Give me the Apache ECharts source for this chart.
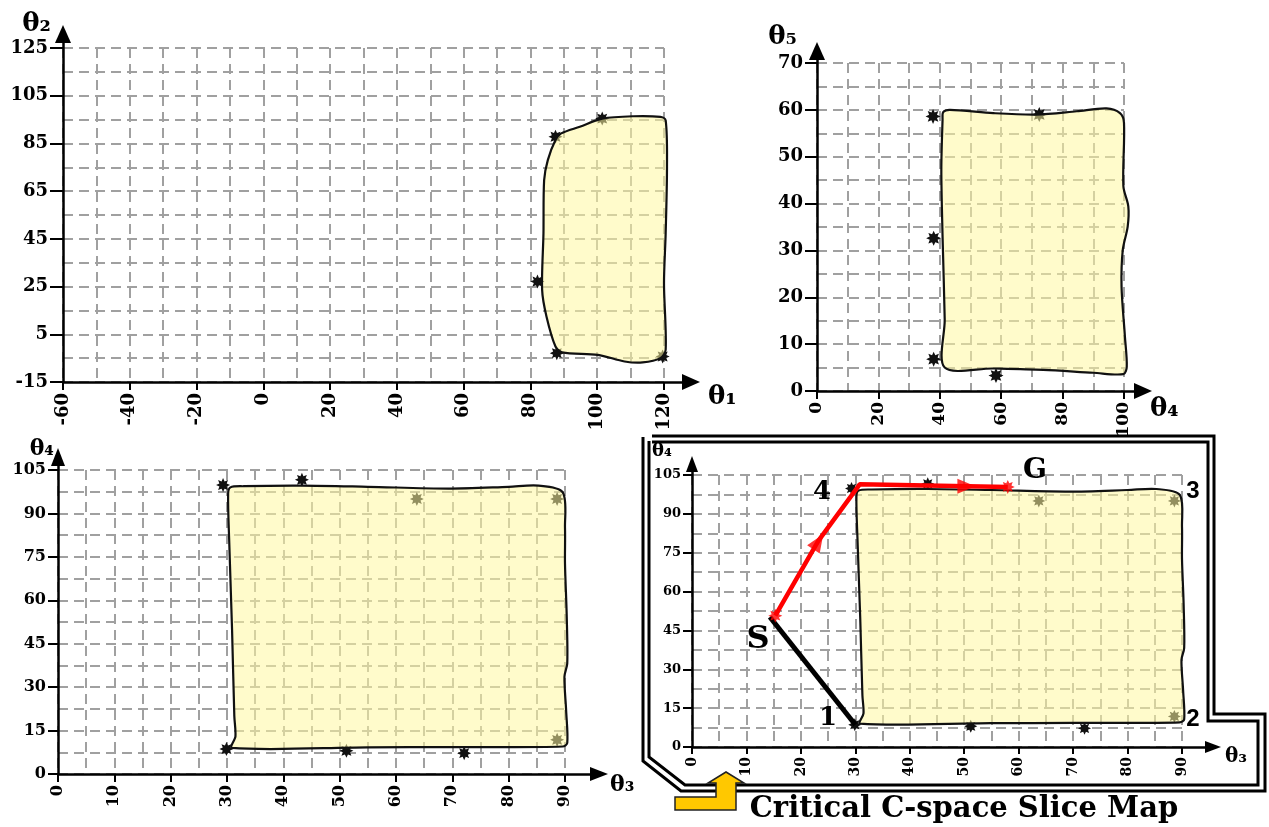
<!DOCTYPE html>
<html><head><meta charset="utf-8">
<script src="https://cdn.jsdelivr.net/npm/echarts@6/dist/echarts.min.js"></script>
<style>html,body{margin:0;padding:0;background:#fff}#c{width:1269px;height:827px}</style>
</head><body><div id="c"></div>
<script>
// ---------------- data ----------------
// panel 1 : theta1 (x) vs theta2 (y)
const p1XRange = [-60, 120];
const p1YRange = [-15, 125];
const p1Region = [[89.2,89.2],[94.8,92.0],[101.5,95.4],[110.9,96.4],[118.9,96.1],[120.5,94.7],[120.9,75.2],[120.5,47.3],[120.0,26.4],[120.5,-1.5],[118.9,-5.0],[113.6,-6.8],[108.2,-6.4],[100.2,-3.6],[89.5,-2.6],[87.5,-0.1],[84.8,12.5],[83.5,23.6],[83.9,47.3],[84.1,69.6],[85.2,78.0],[87.5,86.4]];
const p1Stars = [[87.5,87.8],[101.5,95.4],[120.3,96.4],[82.1,27.1],[87.9,-2.9],[119.6,-4.3]];
// panel 2 : theta4 (x) vs theta5 (y)
const p2XRange = [0, 100];
const p2YRange = [0, 70];
const p2Region = [[41.1,59.5],[43.3,60.0],[57.4,59.3],[71.5,59.0],[84.6,59.7],[94.3,60.3],[98.7,59.3],[100,57.2],[99.8,43.7],[101.4,39.4],[101.2,35.1],[99.6,30.1],[99.2,22.3],[100.3,11.6],[100.9,5.2],[99.8,3.6],[90,3.9],[73.7,4.5],[57.4,4.8],[41.6,5.0],[41.6,15.2],[40.9,33],[40.5,47.2],[40.9,57.9]];
const p2Stars = [[37.8,58.6],[72.4,59],[100.9,34.8],[38,32.6],[38,6.8],[58.3,3.3]];
// panels 3 & 4 : theta3 (x) vs theta4 (y)
const p34XRange = [0, 90];
const p34YRange = [0, 105];
const p34Region = [[30.6,99],[33,99.4],[43.3,99.6],[55,99.2],[69.3,98.6],[80,99.2],[85.3,99.6],[89.6,97.3],[90,85],[90,72.6],[90.3,55],[90.4,38.2],[89.9,33.6],[90.2,22],[90.4,10.7],[89.6,9.5],[70,9.3],[54.9,9.2],[30.9,9],[31.5,13],[31.3,20],[30.9,49.7],[30.4,80],[30.2,96.7]];
const p34Stars = [[29.3,99.8],[43.3,101.6],[63.7,95],[88.6,95],[29.9,8.6],[51.2,8],[72.1,7.2],[88.6,11.8]];
// panel 4 path
const redPath = [[15.3,50.7],[23.2,79.6],[30.8,101.4],[58,100.4]];
const blackPath = [[14.3,50.2],[30,8.6]];
const redStars = [[15.3,50.7],[58,100.4]];
const pathArrows = [[23.2,79.2],[50.4,100.7]];
const pointNames = ['S','1','2','3','4','G'];

// ---------------- helpers ----------------
const P1_SHIFT = 15; // panel-1 y axis counted from 0 so ticks fall on -15, 5, 25 ...
function starPath() {
  let d = '';
  for (let k = 0; k < 16; k++) {
    const a = k * Math.PI / 8;
    const r = (k % 2 === 0) ? 6 : 3.4;
    d += (k === 0 ? 'M' : 'L') + (r * Math.cos(a)).toFixed(2) + ',' + (r * Math.sin(a)).toFixed(2);
  }
  return 'path://' + d + 'Z';
}
const STAR = starPath();
const GL = {color:'#a0a0a0', width:2, type:[10,6]};
const FONT = 'DejaVu Serif';

function mainX(gi, range, interval, fs, tickLen) {
  return {gridIndex: gi, type:'value', min: range[0], max: range[1], interval: interval,
    axisLine:{show:false, onZero:false},
    axisTick:{show:true, length: tickLen, lineStyle:{color:'#000', width:2}},
    axisLabel:{rotate:90, margin: tickLen + 3, color:'#000', fontFamily:FONT, fontWeight:'bold', fontSize:fs},
    splitLine:{show:true, lineStyle:GL},
    minorTick:{show:false, splitNumber:2},
    minorSplitLine:{show:true, lineStyle:GL}};
}
function mainY(gi, range, interval, fs, tickLen, fmt) {
  return {gridIndex: gi, type:'value', min: range[0], max: range[1], interval: interval,
    axisLine:{show:false, onZero:false},
    axisTick:{show:true, length: tickLen, lineStyle:{color:'#000', width:2}},
    axisLabel:{margin: tickLen + 2, color:'#000', fontFamily:FONT, fontWeight:'bold', fontSize:fs, formatter: fmt},
    splitLine:{show:true, lineStyle:GL},
    minorTick:{show:false, splitNumber:2},
    minorSplitLine:{show:true, lineStyle:GL}};
}
function arrowX(gi, name, gap, fs, pad, sym) {
  return {gridIndex: gi, type:'value', min:0, max:1, z:6,
    axisLine:{show:true, onZero:false, symbol:['none','triangle'], symbolSize:sym, lineStyle:{color:'#000', width:2.5}},
    axisTick:{show:false}, axisLabel:{show:false}, splitLine:{show:false},
    name: name, nameLocation:'end', nameGap: gap,
    nameTextStyle:{fontFamily:FONT, fontWeight:'bold', fontSize:fs, color:'#000', verticalAlign:'top', align:'left', padding:pad}};
}
function arrowY(gi, name, gap, fs, pad, sym) {
  return {gridIndex: gi, type:'value', min:0, max:1, z:6,
    axisLine:{show:true, onZero:false, symbol:['none','triangle'], symbolSize:sym, lineStyle:{color:'#000', width:2.5}},
    axisTick:{show:false}, axisLabel:{show:false}, splitLine:{show:false},
    name: name, nameLocation:'end', nameGap: gap,
    nameTextStyle:{fontFamily:FONT, fontWeight:'bold', fontSize:fs, color:'#000', verticalAlign:'bottom', align:'right', padding:pad}};
}
function regionSeries(idx, pts, shift) {
  return {type:'custom', xAxisIndex: idx, yAxisIndex: idx, silent:true, z:3, data:[0],
    renderItem: function (params, api) {
      return {type:'polygon',
        shape:{points: pts.map(p => api.coord([p[0], p[1] + shift])), smooth:0.3},
        style:{fill:'rgba(255,248,160,0.55)', stroke:'#111', lineWidth:2.2}};
    }};
}
function starSeries(idx, pts, shift, color, size) {
  return {type:'scatter', xAxisIndex: idx, yAxisIndex: idx, silent:true, z:2,
    symbol: STAR, symbolSize: size, itemStyle:{color: color, opacity:1},
    data: pts.map(p => [p[0], p[1] + shift])};
}

const option = {
  animation:false,
  backgroundColor:'#fff',
  grid:[
    {left:63, top:48, width:601, height:334},
    {left:817, top:63, width:307, height:328},
    {left:58, top:470, width:507, height:304},
    {left:692, top:475, width:490, height:272},
    {left:63, top:34, width:628, height:348},
    {left:817, top:51, width:326, height:340},
    {left:58, top:457, width:541, height:317},
    {left:692, top:464, width:521, height:283}
  ],
  xAxis:[
    mainX(0, p1XRange, 20, 18, 8),
    mainX(1, p2XRange, 20, 17, 8),
    mainX(2, p34XRange, 10, 16, 8),
    mainX(3, p34XRange, 10, 14, 7),
    arrowX(4, 'θ₁', 17, 26, [2,0,0,0], [16,18]),
    arrowX(5, 'θ₄', 7, 26, [5,0,0,0], [16,18]),
    arrowX(6, 'θ₃', 11, 22, [0,0,0,0], [14,18]),
    arrowX(7, 'θ₃', 12, 20, [0,0,0,0], [12,16])
  ],
  yAxis:[
    mainY(0, [p1YRange[0] + P1_SHIFT, p1YRange[1] + P1_SHIFT], 20, 18, 13, v => String(v - P1_SHIFT)),
    mainY(1, p2YRange, 10, 18, 12, v => String(v)),
    mainY(2, p34YRange, 15, 16, 10, v => String(v)),
    mainY(3, p34YRange, 15, 13, 9, v => String(v)),
    arrowY(4, 'θ₂', -3, 26, [0,12,0,0], [16,18]),
    arrowY(5, 'θ₅', 1, 26, [0,20,0,0], [16,18]),
    arrowY(6, 'θ₄', -3, 22, [0,4,0,0], [14,18]),
    arrowY(7, 'θ₄', 4, 18, [0,20,0,0], [12,16])
  ],
  series:[
    starSeries(0, p1Stars, P1_SHIFT, '#111', 14),
    regionSeries(0, p1Region, P1_SHIFT),
    starSeries(1, p2Stars, 0, '#111', 15),
    regionSeries(1, p2Region, 0),
    starSeries(2, p34Stars, 0, '#111', 14),
    regionSeries(2, p34Region, 0),
    starSeries(3, p34Stars, 0, '#111', 13),
    regionSeries(3, p34Region, 0),
    {type:'line', xAxisIndex:3, yAxisIndex:3, data: blackPath, symbol:'none', silent:true, z:5,
      lineStyle:{color:'#000', width:5}},
    {type:'line', xAxisIndex:3, yAxisIndex:3, data: redPath, symbol:'none', silent:true, z:6,
      lineStyle:{color:'#ff0000', width:4.5}},
    {type:'scatter', xAxisIndex:3, yAxisIndex:3, silent:true, z:7, symbol: STAR, symbolSize:14,
      itemStyle:{color:'#ff0000'}, data: redStars},
    {type:'scatter', xAxisIndex:3, yAxisIndex:3, silent:true, z:7, symbol:'triangle', symbolSize:[15,18],
      itemStyle:{color:'#ff0000'},
      data:[{value: pathArrows[0], symbolRotate:-33}, {value: pathArrows[1], symbolRotate:-90}]}
  ],
  graphic:[
    {type:'polyline', z:10, silent:true, shape:{points:[[652,436],[1214,436],[1214,714],[1265,714],[1265,791],[681,791],[643,761],[643,437]]},
      style:{stroke:'#000', lineWidth:3, fill:null}},
    {type:'polyline', z:10, silent:true, shape:{points:[[652,442],[1208,442],[1208,721],[1258,721],[1258,785],[685,785],[649,757],[649,441]]},
      style:{stroke:'#000', lineWidth:3, fill:null}},
    {type:'polygon', z:11, silent:true, shape:{points:[[675,797],[716,797],[716,783],[708,783],[726,772],[744,783],[736,783],[736,810],[675,810]]},
      style:{fill:'#ffc800', stroke:'#222', lineWidth:1.5}},
    {type:'text', z:11, silent:true, style:{text:'Critical C-space Slice Map', x:964, y:809, align:'center', verticalAlign:'middle',
      font:'bold 29px "DejaVu Serif"', fill:'#000'}},
    {type:'text', z:11, silent:true, style:{text: pointNames[0], x:758, y:640, align:'center', verticalAlign:'middle', font:'bold 32px "DejaVu Serif"', fill:'#000'}},
    {type:'text', z:11, silent:true, style:{text: pointNames[1], x:828, y:718, align:'center', verticalAlign:'middle', font:'bold 26px "DejaVu Serif"', fill:'#000'}},
    {type:'text', z:11, silent:true, style:{text: pointNames[2], x:1193, y:719, align:'center', verticalAlign:'middle', font:'bold 24px "Liberation Sans"', fill:'#000'}},
    {type:'text', z:11, silent:true, style:{text: pointNames[3], x:1193, y:491, align:'center', verticalAlign:'middle', font:'bold 24px "Liberation Sans"', fill:'#000'}},
    {type:'text', z:11, silent:true, style:{text: pointNames[4], x:822, y:492, align:'center', verticalAlign:'middle', font:'bold 26px "DejaVu Serif"', fill:'#000'}},
    {type:'text', z:11, silent:true, style:{text: pointNames[5], x:1035, y:471, align:'center', verticalAlign:'middle', font:'bold 28px "DejaVu Serif"', fill:'#000'}}
  ]
};
const chart = echarts.init(document.getElementById('c'), null, {renderer:'canvas'});
chart.setOption(option);
</script></body></html>
